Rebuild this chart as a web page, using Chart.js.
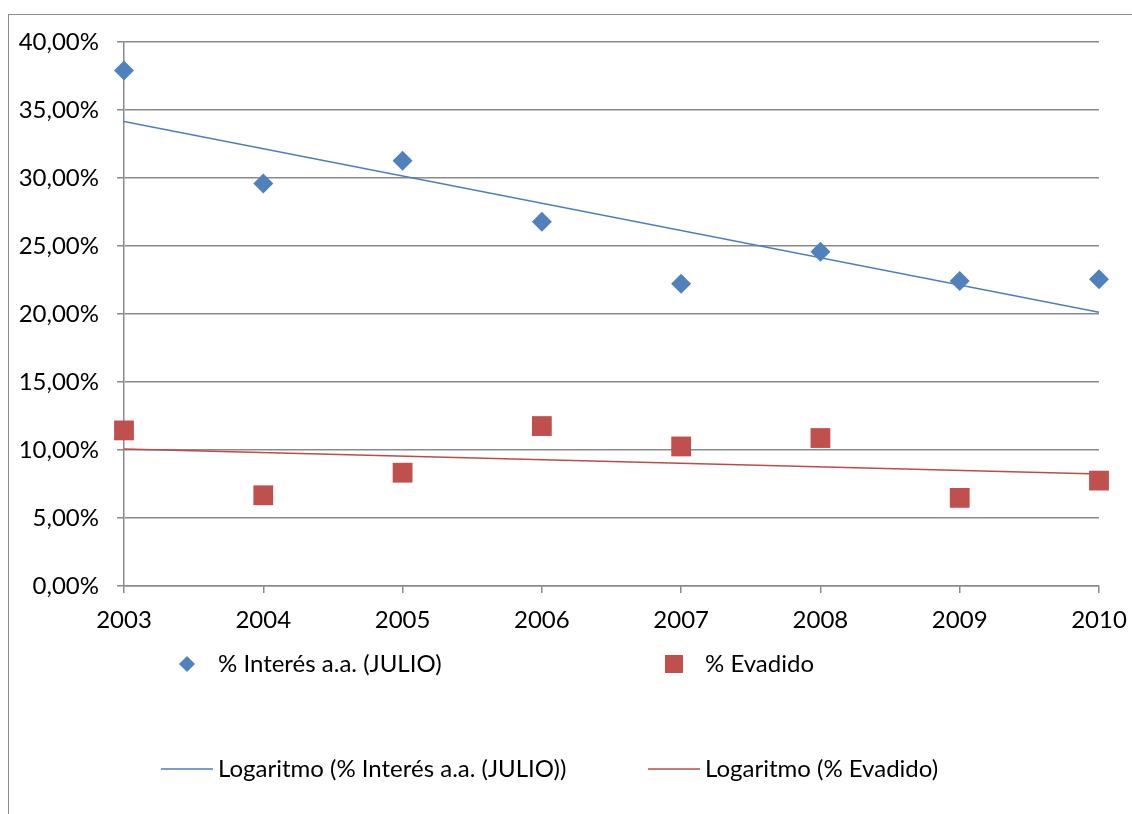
<!DOCTYPE html>
<html>
<head>
<meta charset="utf-8">
<script src="https://cdn.jsdelivr.net/npm/chart.js@4"></script>
<style>
    body { margin: 0; background: #fff; overflow: hidden; }
    #frame {
        position: absolute; left: 8px; top: 14px; width: 1200px; height: 900px;
        border-left: 1.5px solid #8c8c8c; border-top: 1.5px solid #8c8c8c;
    }
    #myChart { position: absolute; left: 0; top: 0; }
</style>
</head>
<body>
<div id="frame"></div>
<canvas id="myChart" width="1132" height="814"></canvas>
<script>
const years = [2003, 2004, 2005, 2006, 2007, 2008, 2009, 2010]
const interes = [37.9, 29.6, 31.26, 26.78, 22.23, 24.58, 22.43, 22.55]
const evadido = [11.44, 6.67, 8.33, 11.76, 10.26, 10.88, 6.48, 7.75]

// ends of the logarithmic trend lines
const trendYears = [2003, 2010]
const trendInteres = [34.16, 20.13]
const trendEvadido = [10.07, 8.24]

const labelInteres = "% Interés a.a. (JULIO)"
const labelEvadido = "% Evadido"

const blue = "#4F81BD"
const red = "#C0504D"
const gridColor = "#8a8a8a"
const fontFamily = "Lato, 'Liberation Sans', sans-serif"
const fontSize = 24

const toPoints = (xs, ys) => xs.map((x, i) => ({ x: x, y: ys[i] }))

// legend drawn under the plot, two rows like the spreadsheet one
const bottomLegend = {
    id: "bottomLegend",
    afterDraw(chart) {
        const ctx = chart.ctx
        const items = [
            { ds: 0, mark: 187, text: 218, y: 664 },
            { ds: 1, mark: 674, text: 705, y: 664 },
            { ds: 2, mark: 161, text: 218, y: 769 },
            { ds: 3, mark: 648, text: 705, y: 769 },
        ]
        ctx.save()
        ctx.font = fontSize + "px " + fontFamily
        ctx.textBaseline = "middle"
        items.forEach(item => {
            const ds = chart.data.datasets[item.ds]
            if (ds.type === "line") {
                ctx.strokeStyle = ds.borderColor
                ctx.lineWidth = ds.borderWidth
                ctx.beginPath()
                ctx.moveTo(item.mark, item.y)
                ctx.lineTo(item.mark + 52, item.y)
                ctx.stroke()
            } else {
                ctx.fillStyle = ds.backgroundColor
                ctx.beginPath()
                if (ds.pointStyle === "rectRot") {
                    ctx.moveTo(item.mark, item.y - 8)
                    ctx.lineTo(item.mark + 8, item.y)
                    ctx.lineTo(item.mark, item.y + 8)
                    ctx.lineTo(item.mark - 8, item.y)
                } else {
                    ctx.rect(item.mark - 9, item.y - 9, 18, 18)
                }
                ctx.fill()
            }
            ctx.fillStyle = "#000"
            ctx.fillText(ds.label, item.text, item.y)
        })
        ctx.restore()
    }
}

const data = {
    datasets: [
        {
            type: "scatter",
            label: labelInteres,
            data: toPoints(years, interes),
            pointStyle: "rectRot",
            pointRadius: 10,
            backgroundColor: blue,
            borderColor: blue,
            borderWidth: 0,
            clip: false,
            order: 1
        },
        {
            type: "scatter",
            label: labelEvadido,
            data: toPoints(years, evadido),
            pointStyle: "rect",
            pointRadius: 14,
            backgroundColor: red,
            borderColor: red,
            borderWidth: 0,
            clip: false,
            order: 1
        },
        {
            type: "line",
            label: "Logaritmo (" + labelInteres + ")",
            data: toPoints(trendYears, trendInteres),
            borderColor: "#4A7EBB",
            borderWidth: 1.6,
            pointRadius: 0,
            fill: false,
            order: 2
        },
        {
            type: "line",
            label: "Logaritmo (" + labelEvadido + ")",
            data: toPoints(trendYears, trendEvadido),
            borderColor: "#BE4B48",
            borderWidth: 1.6,
            pointRadius: 0,
            fill: false,
            order: 2
        }
    ]
}

const config = {
    type: "scatter",
    data: data,
    options: {
        responsive: false,
        animation: false,
        layout: { padding: { top: 42, right: 33, bottom: 0, left: 0 } },
        plugins: {
            legend: { display: false },
            tooltip: { enabled: false }
        },
        scales: {
            x: {
                type: "linear",
                min: 2003,
                max: 2010,
                afterFit: (scale) => {
                    scale.height = 228
                    scale.paddingLeft = 0
                    scale.paddingRight = 0
                },
                ticks: {
                    stepSize: 1,
                    padding: 13,
                    color: "#000",
                    font: { family: fontFamily, size: fontSize },
                    callback: (value) => String(value)
                },
                grid: {
                    drawOnChartArea: false,
                    drawTicks: true,
                    tickLength: 7,
                    color: gridColor,
                    lineWidth: 1.5
                },
                border: { display: true, color: gridColor, width: 1.5 }
            },
            y: {
                min: 0,
                max: 40,
                afterFit: (scale) => {
                    scale.width = 124
                    scale.paddingTop = 0
                    scale.paddingBottom = 0
                },
                ticks: {
                    stepSize: 5,
                    padding: 18,
                    color: "#000",
                    font: { family: fontFamily, size: fontSize },
                    callback: (value) => value.toFixed(2).replace(".", ",") + "%"
                },
                grid: {
                    drawTicks: true,
                    tickLength: 7,
                    color: gridColor,
                    lineWidth: 1.5
                },
                border: { display: true, color: gridColor, width: 1.5 }
            }
        }
    },
    plugins: [bottomLegend]
}

new Chart(document.querySelector("#myChart"), config)
</script>
</body>
</html>
